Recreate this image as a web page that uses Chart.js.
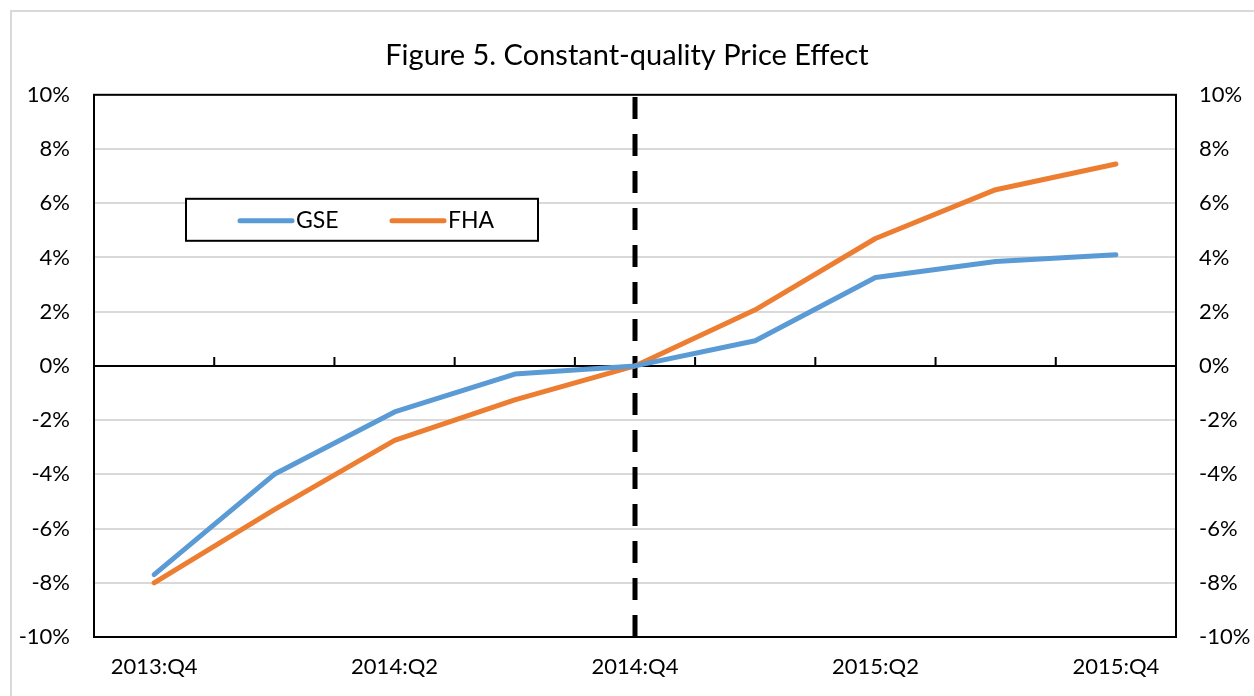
<!DOCTYPE html>
<html lang="en">
<head>
    <meta charset="UTF-8">
    <title>Figure 5. Constant-quality Price Effect</title>
    <script src="https://cdn.jsdelivr.net/npm/chart.js"></script>
    <style>
        html, body {
            margin: 0;
            padding: 0;
            background: #fff;
            overflow: hidden;
        }
        .frame {
            position: absolute;
            left: 10px;
            top: 10px;
            width: 1400px;
            height: 900px;
            border: 2px solid #d9d9d9;
        }
        #chart {
            position: absolute;
            left: 0;
            top: 0;
        }
    </style>
</head>
<body>
    <div class="frame"></div>
    <canvas id="chart" width="1254" height="696"></canvas>

    <script>
        const quarters = ['2013:Q4', '2014:Q1', '2014:Q2', '2014:Q3', '2014:Q4', '2015:Q1', '2015:Q2', '2015:Q3', '2015:Q4'];
        const gse = [-7.7, -4.0, -1.7, -0.3, 0.0, 0.93, 3.26, 3.85, 4.1];
        const fha = [-8.0, -5.3, -2.75, -1.25, 0.0, 2.07, 4.7, 6.5, 7.45];
        const shownLabels = ['2013:Q4', '2014:Q2', '2014:Q4', '2015:Q2', '2015:Q4'];
        const markerQuarter = '2014:Q4';

        const FONT = 'Lato, "Open Sans", sans-serif';

        // plot frame, zero-line ticks, dashed marker, legend box
        const extras = {
            id: 'extras',
            beforeDatasetsDraw(chart) {
                const { ctx, chartArea, scales } = chart;
                const x = scales.x, y = scales.y;
                const y0 = y.getPixelForValue(0);

                ctx.save();
                ctx.strokeStyle = '#000';
                ctx.lineWidth = 2;
                ctx.beginPath();
                ctx.moveTo(chartArea.left, y0);
                ctx.lineTo(chartArea.right, y0);
                for (let i = 0; i < quarters.length - 1; i++) {
                    const bx = (x.getPixelForValue(i) + x.getPixelForValue(i + 1)) / 2;
                    ctx.moveTo(bx, y0);
                    ctx.lineTo(bx, y0 - 9);
                }
                ctx.stroke();

                const mx = x.getPixelForValue(quarters.indexOf(markerQuarter));
                ctx.lineWidth = 5;
                ctx.setLineDash([22, 15]);
                ctx.beginPath();
                ctx.moveTo(mx, chartArea.bottom);
                ctx.lineTo(mx, chartArea.top);
                ctx.stroke();
                ctx.restore();
            },
            afterDatasetsDraw(chart) {
                const { ctx, chartArea } = chart;
                ctx.save();
                ctx.strokeStyle = '#000';
                ctx.lineWidth = 2;
                ctx.strokeRect(chartArea.left, chartArea.top, chartArea.right - chartArea.left, chartArea.bottom - chartArea.top);

                // legend
                const lx = chartArea.left + 92, ly = chartArea.top + 104;
                ctx.fillStyle = '#fff';
                ctx.fillRect(lx, ly, 352, 42);
                ctx.strokeRect(lx, ly, 352, 42);
                ctx.font = '23px ' + FONT;
                ctx.textBaseline = 'middle';
                ctx.lineCap = 'round';
                ctx.lineWidth = 5;
                chart.data.datasets.forEach((ds, i) => {
                    const sx = lx + 54 + i * 152;
                    ctx.strokeStyle = ds.borderColor;
                    ctx.beginPath();
                    ctx.moveTo(sx, ly + 22);
                    ctx.lineTo(sx + 52, ly + 22);
                    ctx.stroke();
                    ctx.fillStyle = '#000';
                    ctx.fillText(ds.label, sx + 56, ly + 22);
                });
                ctx.restore();
            }
        };

        const yTicks = {
            stepSize: 2,
            color: '#000',
            font: { family: FONT, size: 22 },
            callback: v => v + '%'
        };

        new Chart(document.getElementById('chart'), {
            type: 'line',
            data: {
                labels: quarters,
                datasets: [
                    { label: 'GSE', data: gse, borderColor: '#5B9BD5', backgroundColor: '#5B9BD5' },
                    { label: 'FHA', data: fha, borderColor: '#ED7D31', backgroundColor: '#ED7D31' }
                ]
            },
            options: {
                responsive: false,
                animation: false,
                layout: { padding: 0 },
                elements: {
                    line: { borderWidth: 5, tension: 0, borderCapStyle: 'round', borderJoinStyle: 'round' },
                    point: { radius: 0, hoverRadius: 0 }
                },
                plugins: {
                    legend: { display: false },
                    tooltip: { enabled: false },
                    title: {
                        display: true,
                        text: 'Figure 5. Constant-quality Price Effect',
                        color: '#000',
                        font: { family: FONT, size: 29, weight: 'normal' },
                        padding: { top: 38, bottom: 22 }
                    }
                },
                scales: {
                    x: {
                        offset: true,
                        grid: { display: false, drawTicks: false },
                        border: { display: false },
                        ticks: {
                            color: '#000',
                            font: { family: FONT, size: 22 },
                            padding: 17,
                            autoSkip: false,
                            maxRotation: 0,
                            callback: function (v, i) {
                                const lab = quarters[i];
                                return shownLabels.includes(lab) ? lab : '';
                            }
                        },
                        afterFit: s => { s.height = 59; }
                    },
                    y: {
                        min: -10, max: 10,
                        grid: { color: '#d9d9d9', lineWidth: 2, drawTicks: false },
                        border: { display: false },
                        ticks: Object.assign({ padding: 24 }, yTicks),
                        afterFit: s => { s.width = 94; }
                    },
                    y2: {
                        position: 'right',
                        min: -10, max: 10,
                        grid: { display: false, drawTicks: false },
                        border: { display: false },
                        ticks: Object.assign({ padding: 23 }, yTicks),
                        afterFit: s => { s.width = 78; }
                    }
                }
            },
            plugins: [extras]
        });
    </script>
</body>
</html>
